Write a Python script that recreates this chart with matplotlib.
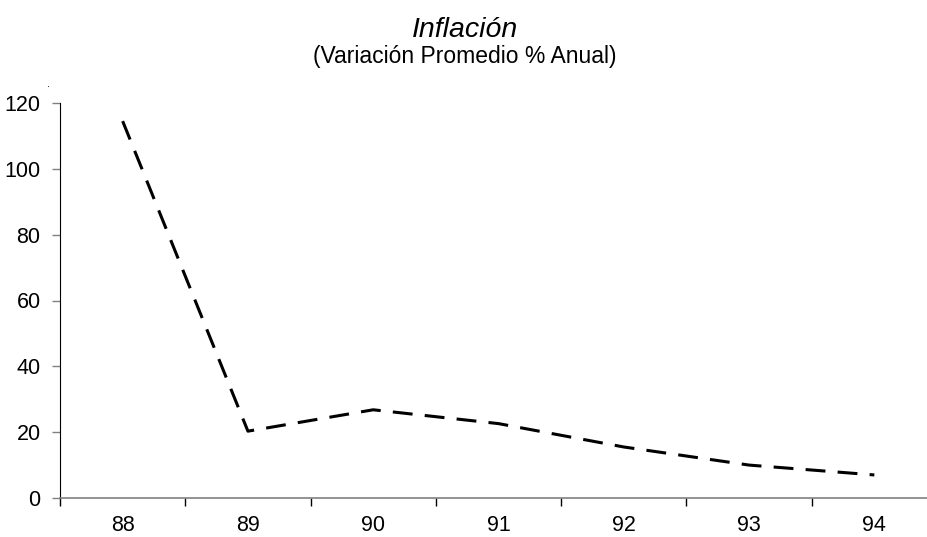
import matplotlib.pyplot as plt
import numpy as np

plt.rcParams['font.family'] = ['Liberation Sans', 'DejaVu Sans']

# average yearly inflation, %
years = ['88', '89', '90', '91', '92', '93', '94']
inflacion = [114.5, 20.3, 26.8, 22.6, 15.5, 10.0, 7.0]

fig = plt.figure(figsize=(9.28, 5.37), dpi=100)
ax = fig.add_axes([60 / 928, 39 / 537, 877 / 928, 395 / 537])

x = np.arange(len(years))
ax.plot(x, inflacion, color='black', linewidth=2.2, linestyle=(0, (6.5, 4)))

ax.set_xlim(-0.5, len(years) - 0.5)
ax.set_ylim(0, 120)
ax.set_yticks(np.arange(0, 121, 20))

# category labels centred, tick marks between categories
ax.set_xticks(x)
ax.set_xticklabels(years)
ax.set_xticks(np.arange(-0.5, len(years)), minor=True)
ax.tick_params(axis='x', which='major', length=0, pad=12, labelsize=15.5)
ax.tick_params(axis='x', which='minor', length=6, width=1, color='black', direction='out')
ax.tick_params(axis='y', length=6, width=1, color='#808080', pad=8, labelsize=15.5)

for side in ['top', 'right']:
    ax.spines[side].set_visible(False)
ax.spines['left'].set_color('black')
ax.spines['bottom'].set_color('#808080')
ax.spines['bottom'].set_linewidth(1.2)

fig.text(0.501, 0.944, 'Inflación', ha='center', va='center', fontsize=20.5, style='italic')
fig.text(0.501, 0.895, '(Variación Promedio % Anual)', ha='center', va='center', fontsize=16.5)
fig.text(49 / 928, 1 - 84 / 537, '.', ha='center', va='center', fontsize=8)

fig.savefig('out.png', dpi=100)
